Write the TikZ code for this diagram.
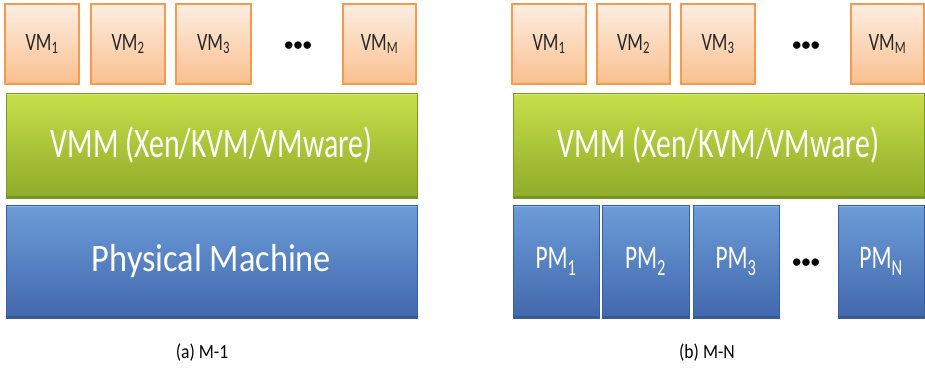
\documentclass[tikz,border=0pt]{standalone}
\usepackage{fontspec}
\setmainfont{Carlito}
\definecolor{vmtop}{HTML}{FDEEE2}
\definecolor{vmbot}{HTML}{FAC08F}
\definecolor{vmline}{HTML}{F79A4E}
\definecolor{grtop}{HTML}{C6DF4A}
\definecolor{grbot}{HTML}{8FAB29}
\definecolor{grline}{HTML}{7E9825}
\definecolor{grhi}{HTML}{E2F08E}
\definecolor{bltop}{HTML}{6D9CD8}
\definecolor{blbot}{HTML}{4168AC}
\definecolor{blline}{HTML}{3A5F9E}
\definecolor{blhi}{HTML}{9CC0EC}
\definecolor{txt}{HTML}{262626}
\newcommand{\sbx}[1]{\textsubscript{#1}}
\newcommand{\sqz}[2]{\scalebox{#1}[1]{#2}}
\newcommand{\threedots}{\textbullet\kern-1.2pt\textbullet\kern-1.2pt\textbullet}
\tikzset{
  x=1pt, y=-1pt,
  bevel/.style={path picture={
    \draw[#1, line width=2pt, opacity=0.7]
      ([yshift=-1pt]path picture bounding box.north west) -- ([yshift=-1pt]path picture bounding box.north east);
    \draw[black, line width=2pt, opacity=0.15]
      ([yshift=1pt]path picture bounding box.south west) -- ([yshift=1pt]path picture bounding box.south east);}},
  vmbox/.style={rectangle, draw=vmline, line width=1.2pt, top color=vmtop, bottom color=vmbot,
    minimum height=80pt, inner sep=0pt, text=txt, font=\fontsize{25}{30}\selectfont},
  vmmbar/.style={rectangle, draw=grline, line width=0.8pt, top color=grtop, bottom color=grbot,
    bevel=grhi, minimum width=411pt, minimum height=105pt, inner sep=0pt, text=white,
    font=\fontsize{42}{48}\selectfont},
  pmbar/.style={rectangle, draw=blline, line width=0.8pt, top color=bltop, bottom color=blbot,
    bevel=blhi, minimum height=113pt, inner sep=0pt, text=white},
  dotsnode/.style={inner sep=0pt, text=black, font=\fontsize{21}{24}\selectfont},
  caption/.style={inner sep=0pt, text=black, font=\fontsize{20}{24}\selectfont},
}
\begin{document}
\begin{tikzpicture}
\useasboundingbox (0,0) rectangle (925,372);
% ---------- left panel (a) ----------
\node[vmbox, minimum width=74pt] (la1) at (42,44) {\sqz{0.73}{VM\sbx{1}}};
\node[vmbox, minimum width=74pt] (la2) at (128,44) {\sqz{0.73}{VM\sbx{2}}};
\node[vmbox, minimum width=75pt] (la3) at (213.5,44) {\sqz{0.73}{VM\sbx{3}}};
\node[dotsnode] (ldots) at (298,47) {\threedots};
\node[vmbox, minimum width=73pt] (lam) at (379.5,44) {\sqz{0.73}{VM\sbx{M}}};
\node[vmmbar] (lvmm) at (211.5,145.5) {\sqz{0.71}{VMM (Xen/KVM/VMware)}};
\node[pmbar, minimum width=411pt, font=\fontsize{39}{46}\selectfont] (lpm) at (211.5,261.5) {\sqz{0.88}{Physical Machine}};
\node[caption] (lcap) at (202,353) {\sqz{0.88}{(a) M-1}};
% ---------- right panel (b) ----------
\node[vmbox, minimum width=74pt] (ra1) at (549,44) {\sqz{0.73}{VM\sbx{1}}};
\node[vmbox, minimum width=73pt] (ra2) at (633.5,44) {\sqz{0.73}{VM\sbx{2}}};
\node[vmbox, minimum width=74pt] (ra3) at (718,44) {\sqz{0.73}{VM\sbx{3}}};
\node[dotsnode] (rdots) at (806,47) {\threedots};
\node[vmbox, minimum width=73pt] (ram) at (887.5,44) {\sqz{0.73}{VM\sbx{M}}};
\node[vmmbar] (rvmm) at (718.5,145.5) {\sqz{0.71}{VMM (Xen/KVM/VMware)}};
\node[pmbar, minimum width=86pt, font=\fontsize{33}{40}\selectfont] (rp1) at (556,261.5) {\sqz{0.71}{PM\sbx{1}}};
\node[pmbar, minimum width=87pt, font=\fontsize{33}{40}\selectfont] (rp2) at (645.5,261.5) {\sqz{0.71}{PM\sbx{2}}};
\node[pmbar, minimum width=86pt, font=\fontsize{33}{40}\selectfont] (rp3) at (736,261.5) {\sqz{0.71}{PM\sbx{3}}};
\node[dotsnode] (pdots) at (806,264) {\threedots};
\node[pmbar, minimum width=86pt, font=\fontsize{33}{40}\selectfont] (rpn) at (881,261.5) {\sqz{0.71}{PM\sbx{N}}};
\node[caption] (rcap) at (707,353) {\sqz{0.88}{(b) M-N}};
\end{tikzpicture}
\end{document}
